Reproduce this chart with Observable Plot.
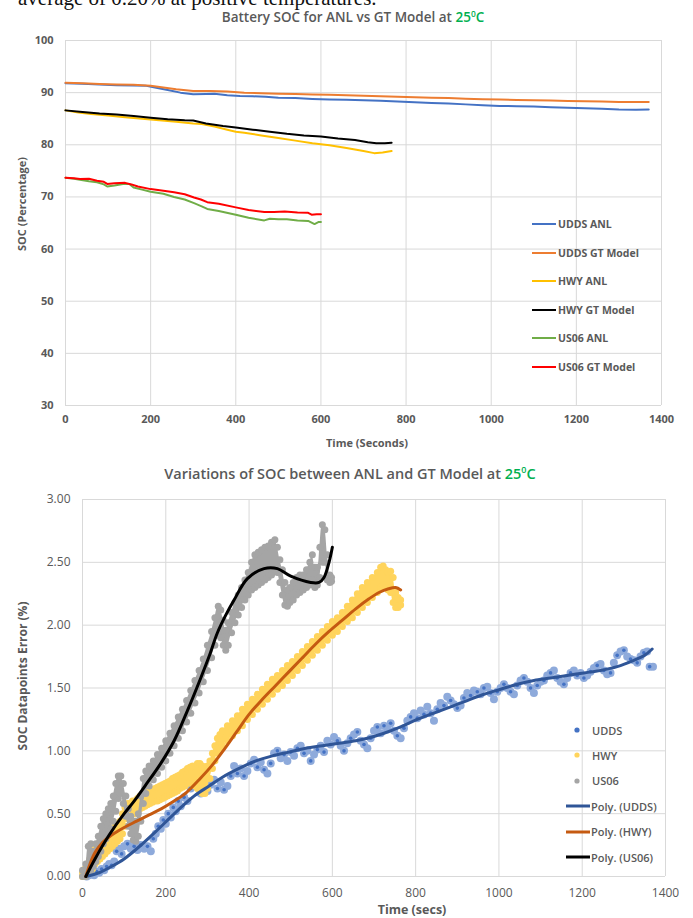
<!DOCTYPE html>
<html><head><meta charset="utf-8">
<script src="https://cdn.jsdelivr.net/npm/d3@7"></script>
<script src="https://cdn.jsdelivr.net/npm/@observablehq/plot@0.6"></script>
<style>
body{margin:0;background:#fff;}
#page{position:relative;width:693px;height:918px;overflow:hidden;font-family:"Open Sans",sans-serif;color:#595959;background:#fff;}
.abs{position:absolute;white-space:nowrap;line-height:1.1;}
.g{color:#00b050;}
sup{font-size:0.62em;vertical-align:super;line-height:0;}
.leg{position:absolute;display:flex;align-items:center;white-space:nowrap;}
#topc,#botc{position:absolute;left:0;}
#topc{top:0;} #botc{top:455px;}
</style></head><body><div id="page">
<div class="abs" style="left:18px;top:-13px;font-family:'Liberation Serif',serif;font-size:21px;color:#111;">average of 0.20% at positive temperatures.</div>
<div id="topc"></div>
<div id="botc"></div>
<div class="abs" id="t1" style="left:353px;top:10px;transform:translateX(-50%);font-size:13.5px;font-weight:600;">Battery SOC for ANL vs GT Model at <span class="g">25<sup>0</sup>C</span></div>
<div class="abs" id="t2" style="left:350px;top:466px;transform:translateX(-50%);font-size:14.5px;font-weight:600;">Variations of SOC between ANL and GT Model at <span class="g">25<sup>0</sup>C</span></div>
<div class="abs" style="left:22px;top:204px;transform:translate(-50%,-50%) rotate(-90deg);font-size:11px;font-weight:700;">SOC (Percentage)</div>
<div class="abs" style="left:367px;top:443px;transform:translate(-50%,-50%);font-size:11px;font-weight:700;">Time (Seconds)</div>
<div class="abs" style="left:23px;top:676px;transform:translate(-50%,-50%) rotate(-90deg);font-size:12px;font-weight:700;">SOC Datapoints Error (%)</div>
<div class="abs" style="left:412px;top:910px;transform:translate(-50%,-50%);font-size:12.5px;font-weight:700;line-height:1;">Time (secs)</div>
<div id="leg1"></div><div id="leg2"></div>
</div>
<script>
// ---------- Top chart data: Battery SOC (%) vs time (s) ----------
const topTicksX = [0,200,400,600,800,1000,1200,1400];
const topTicksY = [30,40,50,60,70,80,90,100];
const topNames = ["UDDS ANL","UDDS GT Model","HWY ANL","HWY GT Model","US06 ANL","US06 GT Model"];
const uddsAnl = [[0,91.8],[40,91.7],[80,91.55],[120,91.4],[160,91.35],[190,91.3],[210,91.0],[240,90.5],[270,90.0],[300,89.7],[330,89.75],[350,89.8],[380,89.5],[410,89.35],[440,89.3],[470,89.2],[500,89.0],[540,88.95],[580,88.8],[620,88.7],[660,88.65],[700,88.55],[740,88.45],[780,88.3],[820,88.15],[860,88.0],[900,87.9],[940,87.75],[980,87.6],[1020,87.45],[1060,87.4],[1100,87.35],[1140,87.2],[1180,87.1],[1220,87.0],[1260,86.9],[1300,86.75],[1340,86.7],[1370,86.75]];
const uddsGt = [[0,91.9],[40,91.8],[80,91.65],[120,91.55],[160,91.5],[200,91.3],[230,91.0],[260,90.65],[300,90.3],[340,90.3],[380,90.2],[420,90.0],[460,89.9],[500,89.8],[540,89.75],[580,89.65],[620,89.6],[660,89.5],[700,89.4],[740,89.3],[780,89.2],[820,89.1],[860,89.0],[900,88.95],[940,88.85],[980,88.75],[1020,88.7],[1060,88.6],[1100,88.55],[1140,88.5],[1180,88.4],[1220,88.35],[1260,88.3],[1300,88.2],[1340,88.2],[1370,88.2]];
const hwyAnl = [[0,86.6],[30,86.2],[60,85.9],[100,85.6],[140,85.3],[180,85.0],[220,84.7],[260,84.4],[300,84.1],[320,84.0],[350,83.5],[380,82.9],[400,82.5],[420,82.3],[460,81.8],[500,81.3],[540,80.8],[580,80.3],[620,79.9],[660,79.4],[700,78.8],[725,78.4],[745,78.5],[766,78.8]];
const hwyGt = [[0,86.6],[40,86.3],[80,86.0],[120,85.8],[160,85.5],[200,85.2],[240,84.9],[280,84.7],[300,84.65],[330,84.1],[370,83.6],[400,83.3],[440,82.9],[480,82.5],[520,82.1],[560,81.8],[600,81.6],[640,81.2],[680,80.9],[710,80.5],[730,80.3],[750,80.3],[766,80.4]];
const us06Anl = [[0,73.7],[20,73.5],[34,73.3],[55,73.0],[74,72.8],[90,72.4],[98,72.0],[115,72.2],[135,72.5],[150,72.5],[160,71.8],[180,71.4],[200,71.0],[230,70.6],[255,70.0],[280,69.5],[302,68.8],[320,68.2],[333,67.7],[360,67.3],[400,66.6],[430,66.0],[467,65.5],[480,65.8],[500,65.7],[520,65.7],[545,65.5],[570,65.4],[585,64.8],[595,65.2],[600,65.2]];
const us06Gt = [[0,73.7],[20,73.6],[34,73.45],[55,73.5],[74,73.1],[90,72.9],[98,72.5],[115,72.6],[140,72.7],[155,72.4],[170,72.0],[200,71.5],[230,71.2],[255,70.9],[280,70.5],[302,69.9],[318,69.5],[333,69.0],[360,68.7],[400,68.0],[430,67.5],[467,67.1],[490,67.1],[515,67.2],[545,67.0],[570,66.95],[578,66.6],[590,66.7],[600,66.7]];

// ---------- Bottom chart data: SOC datapoint error (%) vs time (s) ----------
const botTicksX = [0,200,400,600,800,1000,1200,1400];
const botTicksY = [0,0.5,1,1.5,2,2.5,3];
const botNames = ["UDDS","HWY","US06","Poly. (UDDS)","Poly. (HWY)","Poly. (US06)"];
const uddsErr = [[10,0],[16,0.01],[22,0.02],[28,0.01],[34,0.04],[40,0.03],[46,0.06],[52,0.05],[58,0.08],[64,0.1],[70,0.09],[76,0.12],[82,0.2],[88,0.22],[94,0.18],[100,0.24],[108,0.26],[116,0.22],[124,0.24],[132,0.21],[140,0.25],[148,0.22],[156,0.24],[164,0.2],[170,0.3],[176,0.34],[182,0.4],[188,0.38],[194,0.45],[200,0.42],[206,0.5],[212,0.47],[218,0.55],[224,0.52],[230,0.6],[236,0.56],[244,0.63],[252,0.6],[260,0.7],[268,0.76],[276,0.72],[284,0.66],[292,0.74],[300,0.68],[308,0.73],[316,0.77],[324,0.7],[332,0.75],[340,0.69],[348,0.72],[356,0.8],[364,0.88],[372,0.82],[380,0.86],[388,0.8],[396,0.84],[404,0.9],[412,0.93],[420,0.87],[428,0.91],[436,0.85],[444,0.82],[452,0.9],[460,0.98],[468,1.0],[476,0.94],[484,0.97],[492,0.92],[500,0.99],[508,0.96],[516,1.02],[524,1.04],[532,0.98],[540,1.0],[548,0.92],[556,0.97],[564,1.01],[572,1.04],[580,0.99],[588,1.08],[596,1.05],[604,1.11],[612,1.08],[620,1.04],[628,1.0],[636,1.06],[644,1.1],[652,1.13],[660,1.15],[668,1.08],[676,1.05],[684,1.02],[692,1.1],[700,1.16],[708,1.19],[716,1.14],[724,1.2],[732,1.17],[740,1.22],[748,1.16],[756,1.12],[764,1.1],[772,1.18],[780,1.24],[788,1.27],[796,1.3],[804,1.26],[812,1.32],[820,1.29],[828,1.35],[836,1.3],[844,1.24],[852,1.33],[860,1.38],[868,1.36],[876,1.43],[884,1.4],[892,1.37],[900,1.34],[908,1.36],[916,1.42],[924,1.46],[932,1.44],[940,1.48],[948,1.47],[956,1.45],[964,1.5],[972,1.51],[980,1.46],[988,1.41],[996,1.47],[1004,1.5],[1012,1.53],[1020,1.5],[1028,1.47],[1036,1.45],[1044,1.52],[1052,1.56],[1060,1.58],[1068,1.55],[1076,1.5],[1084,1.46],[1092,1.52],[1100,1.55],[1108,1.56],[1116,1.6],[1124,1.62],[1132,1.64],[1140,1.58],[1148,1.55],[1156,1.53],[1164,1.58],[1172,1.62],[1180,1.64],[1188,1.6],[1196,1.62],[1204,1.58],[1212,1.6],[1220,1.63],[1228,1.66],[1236,1.68],[1244,1.69],[1252,1.64],[1260,1.61],[1268,1.62],[1276,1.7],[1284,1.76],[1292,1.79],[1300,1.8],[1308,1.75],[1316,1.73],[1324,1.72],[1332,1.7],[1340,1.75],[1348,1.78],[1356,1.79],[1362,1.67],[1370,1.67]];
// dense scatter bands read as [time, lower edge, upper edge]
const hwyBand = [[0,0,0.03],[6,0,0.06],[12,0.02,0.1],[18,0.04,0.14],[24,0.06,0.18],[30,0.1,0.22],[36,0.12,0.24],[42,0.14,0.26],[48,0.16,0.28],[54,0.18,0.3],[60,0.2,0.32],[66,0.22,0.34],[72,0.24,0.38],[78,0.26,0.4],[84,0.28,0.42],[90,0.3,0.44],[96,0.34,0.5],[102,0.4,0.55],[108,0.46,0.58],[114,0.48,0.58],[120,0.5,0.6],[126,0.5,0.6],[132,0.52,0.62],[138,0.54,0.64],[144,0.55,0.65],[150,0.56,0.66],[156,0.57,0.67],[162,0.58,0.68],[168,0.59,0.69],[174,0.6,0.7],[180,0.6,0.71],[186,0.61,0.72],[192,0.62,0.73],[198,0.63,0.74],[204,0.64,0.75],[210,0.65,0.76],[216,0.66,0.78],[222,0.67,0.79],[228,0.68,0.8],[234,0.7,0.81],[240,0.71,0.83],[246,0.72,0.84],[252,0.74,0.86],[258,0.75,0.87],[264,0.74,0.88],[270,0.72,0.88],[276,0.7,0.9],[282,0.68,0.9],[288,0.66,0.88],[294,0.66,0.86],[300,0.7,0.88],[306,0.78,0.92],[312,0.86,0.98],[318,0.92,1.04],[324,0.98,1.1],[330,1.02,1.13],[336,1.04,1.16],[348,1.08,1.2],[360,1.12,1.24],[372,1.16,1.28],[384,1.2,1.33],[396,1.25,1.37],[408,1.29,1.41],[420,1.33,1.45],[432,1.37,1.49],[444,1.41,1.53],[456,1.45,1.57],[468,1.49,1.6],[480,1.52,1.64],[492,1.56,1.68],[504,1.6,1.71],[516,1.64,1.75],[528,1.68,1.79],[540,1.72,1.83],[552,1.76,1.87],[564,1.8,1.91],[576,1.84,1.95],[588,1.88,1.99],[600,1.92,2.03],[612,1.95,2.06],[624,1.99,2.1],[636,2.03,2.15],[648,2.06,2.2],[660,2.1,2.25],[672,2.14,2.3],[684,2.18,2.34],[696,2.22,2.38],[708,2.26,2.42],[716,2.3,2.46],[722,2.32,2.47],[728,2.3,2.44],[734,2.28,2.42],[740,2.26,2.43],[746,2.18,2.38],[752,2.14,2.26],[758,2.14,2.22],[764,2.16,2.2]];
const us06Band = [[0,0,0.05],[8,0,0.1],[14,0.02,0.24],[20,0.04,0.26],[26,0.08,0.2],[32,0.12,0.26],[38,0.16,0.32],[44,0.2,0.4],[50,0.26,0.46],[56,0.3,0.5],[62,0.34,0.54],[68,0.38,0.58],[74,0.44,0.64],[80,0.52,0.74],[86,0.62,0.8],[92,0.66,0.8],[98,0.58,0.74],[104,0.48,0.64],[110,0.4,0.54],[116,0.34,0.48],[122,0.29,0.44],[128,0.28,0.44],[134,0.32,0.5],[140,0.44,0.64],[146,0.58,0.78],[152,0.66,0.84],[160,0.72,0.88],[170,0.77,0.92],[180,0.82,0.97],[190,0.87,1.02],[200,0.92,1.08],[210,0.98,1.14],[220,1.04,1.2],[230,1.1,1.27],[240,1.16,1.33],[250,1.23,1.4],[260,1.3,1.48],[270,1.38,1.56],[280,1.46,1.64],[290,1.55,1.73],[300,1.64,1.84],[310,1.74,1.95],[318,1.84,2.06],[326,1.92,2.15],[332,1.9,2.12],[338,1.84,2.04],[344,1.8,1.96],[350,1.84,2.02],[358,1.94,2.1],[366,2.02,2.18],[374,2.08,2.24],[382,2.14,2.3],[390,2.2,2.36],[398,2.24,2.42],[406,2.28,2.5],[414,2.3,2.56],[422,2.32,2.58],[430,2.34,2.6],[438,2.36,2.62],[446,2.38,2.63],[454,2.4,2.66],[462,2.44,2.68],[468,2.42,2.62],[474,2.34,2.52],[480,2.24,2.44],[486,2.16,2.34],[492,2.15,2.28],[498,2.18,2.3],[506,2.2,2.34],[514,2.24,2.38],[522,2.26,2.4],[530,2.28,2.4],[538,2.3,2.44],[546,2.32,2.5],[552,2.36,2.56],[558,2.3,2.46],[564,2.32,2.46],[570,2.38,2.62],[576,2.5,2.8],[582,2.5,2.76],[588,2.36,2.56],[594,2.34,2.4],[598,2.35,2.38]];
const polyUdds = [[8,0],[40,0.03],[64,0.07],[100,0.14],[144,0.26],[180,0.37],[208,0.46],[240,0.56],[272,0.65],[304,0.72],[336,0.79],[376,0.86],[416,0.92],[456,0.96],[496,0.99],[536,1.02],[576,1.04],[616,1.06],[656,1.08],[684,1.1],[724,1.14],[764,1.19],[804,1.25],[844,1.3],[884,1.35],[924,1.4],[964,1.45],[1004,1.49],[1044,1.53],[1084,1.56],[1124,1.58],[1164,1.6],[1204,1.62],[1244,1.64],[1284,1.67],[1324,1.72],[1350,1.76],[1368,1.81]];
const polyHwy = [[8,0],[18,0.1],[30,0.19],[48,0.27],[70,0.33],[100,0.39],[130,0.44],[160,0.49],[190,0.54],[220,0.6],[250,0.67],[280,0.77],[310,0.88],[340,1.01],[370,1.15],[400,1.29],[432,1.41],[464,1.52],[496,1.63],[528,1.74],[560,1.85],[592,1.95],[624,2.04],[656,2.13],[688,2.21],[712,2.26],[735,2.29],[752,2.3],[764,2.28]];
const polyUs06 = [[8,0],[30,0.14],[64,0.33],[100,0.5],[124,0.6],[150,0.72],[188,0.9],[220,1.08],[252,1.32],[284,1.58],[305,1.76],[324,1.94],[344,2.08],[364,2.2],[396,2.37],[436,2.45],[468,2.45],[500,2.39],[548,2.34],[568,2.34],[580,2.38],[592,2.5],[600,2.62]];

// ---------- styles ----------
const topColors = ["#4472c4","#ed7d31","#ffc000","#000000","#70ad47","#ff0000"];
const botColors = ["#4472c4","#ffd45c","#a5a5a5","#2f5597","#c55a11","#000000"];
const gridColor = "#d9d9d9";
const txtColor = "#595959";
const X = d => d[0], Y = d => d[1], Y2 = d => d[2];
const plainFmt = d3.format("d");

// ---------- top chart ----------
const topLines = [uddsAnl, uddsGt, hwyAnl, hwyGt, us06Anl, us06Gt];
const topPlot = Plot.plot({
  width: 693, height: 455,
  marginTop: 40, marginBottom: 50, marginLeft: 65, marginRight: 32,
  style: {fontFamily: "Open Sans, sans-serif", color: txtColor, background: "transparent"},
  x: {domain: [0, 1400]},
  y: {domain: [30, 100]},
  marks: [
    Plot.gridX(topTicksX, {stroke: gridColor, strokeOpacity: 1}),
    Plot.gridY(topTicksY, {stroke: gridColor, strokeOpacity: 1}),
    Plot.axisX(topTicksX, {tickSize: 0, tickPadding: 10, fontSize: 11, fontWeight: "bold", tickFormat: plainFmt, label: null}),
    Plot.axisY(topTicksY, {tickSize: 0, tickPadding: 12, fontSize: 11, fontWeight: "bold", tickFormat: plainFmt, label: null}),
    ...topLines.map((s, i) => Plot.line(s, {x: X, y: Y, stroke: topColors[i], strokeWidth: 2}))
  ]
});
document.getElementById("topc").appendChild(topPlot);

// ---------- bottom chart ----------
const dotR = 3.5;
const botPlot = Plot.plot({
  width: 693, height: 463,
  marginTop: 44, marginBottom: 42, marginLeft: 82, marginRight: 28,
  style: {fontFamily: "Open Sans, sans-serif", color: txtColor, background: "transparent"},
  x: {domain: [0, 1400]},
  y: {domain: [0, 3]},
  marks: [
    Plot.gridX(botTicksX, {stroke: gridColor, strokeOpacity: 1}),
    Plot.gridY(botTicksY, {stroke: gridColor, strokeOpacity: 1}),
    Plot.axisX(botTicksX, {tickSize: 0, tickPadding: 12, fontSize: 12, tickFormat: plainFmt, label: null}),
    Plot.axisY(botTicksY, {tickSize: 0, tickPadding: 12, fontSize: 12, tickFormat: d3.format(".2f"), label: null}),
    Plot.dot(uddsErr, {x: X, y: Y, r: 4, fill: "#8eaadb"}),
    Plot.dot(uddsErr.filter((d, i) => i % 2 === 0), {x: X, y: Y, r: 1.8, fill: botColors[0]}),
    Plot.areaY(hwyBand, {x: X, y1: Y, y2: Y2, fill: botColors[1], curve: "catmull-rom"}),
    Plot.dot(hwyBand, {x: X, y: Y, r: dotR, fill: botColors[1]}),
    Plot.dot(hwyBand, {x: X, y: Y2, r: dotR, fill: botColors[1]}),
    Plot.areaY(us06Band, {x: X, y1: Y, y2: Y2, fill: botColors[2], curve: "catmull-rom"}),
    Plot.dot(us06Band, {x: X, y: Y, r: dotR, fill: botColors[2]}),
    Plot.dot(us06Band, {x: X, y: Y2, r: dotR, fill: botColors[2]}),
    Plot.line(polyUdds, {x: X, y: Y, stroke: botColors[3], strokeWidth: 3, curve: "catmull-rom"}),
    Plot.line(polyHwy, {x: X, y: Y, stroke: botColors[4], strokeWidth: 3, curve: "catmull-rom"}),
    Plot.line(polyUs06, {x: X, y: Y, stroke: botColors[5], strokeWidth: 3, curve: "catmull-rom"})
  ]
});
document.getElementById("botc").appendChild(botPlot);

// ---------- legends ----------
const leg1 = document.getElementById("leg1");
const leg1Y = [224, 252.5, 281, 309.5, 338, 366.5];
topNames.forEach((n, i) => {
  const el = document.createElement("div");
  el.className = "leg";
  el.style.left = "532px"; el.style.top = (leg1Y[i] - 8) + "px"; el.style.height = "16px";
  el.style.fontSize = "10.5px"; el.style.fontWeight = "700";
  el.innerHTML = `<svg width="24" height="4" style="margin-right:2px"><line x1="0" y1="2" x2="24" y2="2" stroke="${topColors[i]}" stroke-width="2"/></svg><span>${n}</span>`;
  leg1.appendChild(el);
});
const leg2 = document.getElementById("leg2");
const leg2Y = [730, 755, 780.5, 806, 831.5, 857];
botNames.forEach((n, i) => {
  const el = document.createElement("div");
  el.className = "leg";
  el.style.top = (leg2Y[i] - 8) + "px"; el.style.height = "16px";
  el.style.fontSize = "11px"; el.style.fontWeight = "600";
  if (i < 3) {
    el.style.left = "574px";
    el.innerHTML = `<svg width="6" height="6" style="margin-right:12px"><circle cx="3" cy="3" r="2.6" fill="${botColors[i]}"/></svg><span>${n}</span>`;
  } else {
    el.style.left = "566px";
    el.innerHTML = `<svg width="24" height="4" style="margin-right:1px"><line x1="0" y1="2" x2="24" y2="2" stroke="${botColors[i]}" stroke-width="3"/></svg><span>${n}</span>`;
  }
  leg2.appendChild(el);
});
</script></body></html>
